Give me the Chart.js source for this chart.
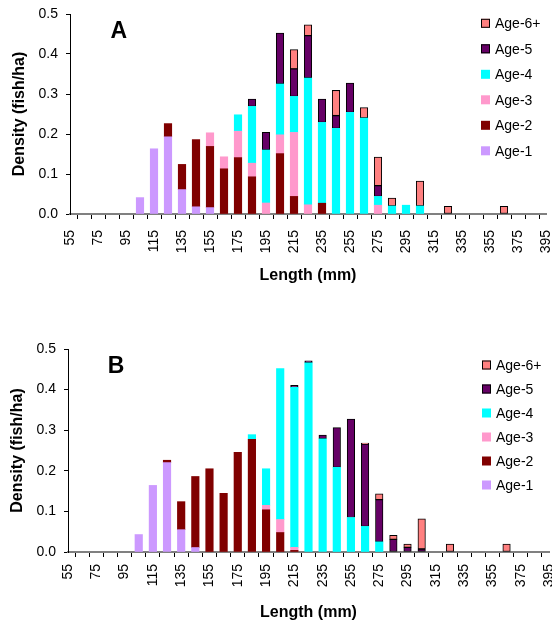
<!DOCTYPE html>
<html><head><meta charset="utf-8">
<script src="https://cdn.jsdelivr.net/npm/chart.js@4.4.1/dist/chart.umd.min.js"></script>
<style>
html,body{margin:0;padding:0;background:#fff;overflow:hidden;width:552px;height:623px;}
#wrapA{position:absolute;left:0;top:0;width:560px;height:290px;}
#wrapB{position:absolute;left:0;top:310px;width:560px;height:313px;}
canvas{display:block;}
</style></head><body>
<div id="wrapA"><canvas id="cA" width="560" height="290"></canvas></div>
<div id="wrapB"><canvas id="cB" width="560" height="313"></canvas></div>
<script>
// Length classes (mm) - x categories
const lengths = [55,65,75,85,95, 105,115,125,135,145, 155,165,175,185,195, 205,215,225,235,245,
                 255,265,275,285,295, 305,315,325,335,345, 355,365,375,385,395];
const n = null;
// Panel A densities (fish/ha) by age
const A_age1 = [n,n,n,n,n, .041,.163,.193,.061,.018, .016,n,n,n,n, n,n,n,n,n, n,n,n,n,n, n,n,n,n,n, n,n,n,n,n];
const A_age2 = [n,n,n,n,n, n,n,.033,.063,.168, .153,.113,.141,.093,n, .151,.044,n,.027,n, n,n,n,n,n, n,n,n,n,n, n,n,n,n,n];
const A_age3 = [n,n,n,n,n, n,n,n,n,n, .034,.030,.066,.034,.0275, .047,.160,.023,n,n, n,n,.022,n,n, n,n,n,n,n, n,n,n,n,n];
const A_age4 = [n,n,n,n,n, n,n,n,n,n, n,n,.041,.142,.1325, .127,.090,.317,.202,.214, .254,.240,.022,.020,.022, .020,n,n,n,n, n,n,n,n,n];
const A_age5 = [n,n,n,n,n, n,n,n,n,n, n,n,n,.018,.044, .127,.069,.106,.058,.032, .073,n,.027,n,n, n,n,n,n,n, n,n,n,n,n];
const A_age6 = [n,n,n,n,n, n,n,n,n,n, n,n,n,n,n, n,.048,.027,n,.063, n,.026,.071,.020,n, .062,n,.019,n,n, n,.019,n,n,n];
// Panel B densities (fish/ha) by age
const B_age1 = [n,n,n,n,n, .043,.164,.220,.055,.011, n,n,n,n,n, n,n,n,n,n, n,n,n,n,n, n,n,n,n,n, n,n,n,n,n];
const B_age2 = [n,n,n,n,n, n,n,.006,.069,.175, .205,.1445,.2455,.2775,.104, .048,.004,n,n,n, n,n,n,n,n, n,n,n,n,n, n,n,n,n,n];
const B_age3 = [n,n,n,n,n, n,n,n,n,n, n,n,n,n,.011, .032,.0075,n,n,n, n,n,n,n,n, n,n,n,n,n, n,n,n,n,n];
const B_age4 = [n,n,n,n,n, n,n,n,n,n, n,n,n,.0115,.090, .3715,.394,.466,.279,.2085, .085,.063,.025,n,n, n,n,n,n,n, n,n,n,n,n];
const B_age5 = [n,n,n,n,n, n,n,n,n,n, n,n,n,n,n, n,.005,.005,.009,.098, .2425,.203,.104,.031,.0115, .0074,n,n,n,n, n,n,n,n,n];
const B_age6 = [n,n,n,n,n, n,n,n,n,n, n,n,n,n,n, n,n,n,n,n, n,.002,.014,.010,.008, .074,n,.0197,n,n, n,.0197,n,n,n];

const ageLabels = ['Age-1','Age-2','Age-3','Age-4','Age-5','Age-6+'];
const ageColors = ['#CC99FF','#800000','#FF99CC','#00FFFF','#660066','#FF8080'];
const ageBorder = [0,0,0,0,1,1];
const FAM = '"Liberation Sans", Arial, sans-serif';

function buildDatasets(series){
  return series.map((vals,i)=>({
    label: ageLabels[i], data: vals, backgroundColor: ageColors[i],
    borderColor: '#000', borderWidth: ageBorder[i], borderSkipped: false,
    barThickness: 7.5, stack: 's'
  }));
}

const insideLegend = {
  id: 'insideLegend',
  afterDraw(chart, args, o){
    const ctx = chart.ctx; ctx.save();
    ctx.font = '14px ' + FAM; ctx.textBaseline = 'middle'; ctx.textAlign = 'left';
    const ds = chart.data.datasets.slice().reverse();
    ds.forEach((d,i)=>{
      const y = o.y0 + i*o.dy;
      ctx.fillStyle = d.backgroundColor;
      ctx.fillRect(o.x, y - o.size/2, o.size, o.size);
      if (d.borderWidth){ ctx.strokeStyle='#000'; ctx.lineWidth=1; ctx.strokeRect(o.x+0.5, y-o.size/2+0.5, o.size-1, o.size-1); }
      ctx.fillStyle = '#000';
      ctx.fillText(d.label, o.textX, y+1);
    });
    ctx.restore();
  }
};
const panelLetter = {
  id: 'panelLetter',
  afterDraw(chart, args, o){
    const ctx = chart.ctx; ctx.save();
    ctx.font = 'bold 23px ' + FAM; ctx.fillStyle='#000';
    ctx.textAlign='center'; ctx.textBaseline='middle';
    ctx.fillText(o.text, o.x, o.y);
    ctx.restore();
  }
};

function makeChart(id, series, g){
  return new Chart(document.getElementById(id), {
    type: 'bar',
    data: { labels: lengths.map(String), datasets: buildDatasets(series) },
    plugins: [insideLegend, panelLetter],
    options: {
      responsive: false, animation: false,
      layout: { padding: { top: g.padTop, right: g.padRight, left: 0, bottom: 0 } },
      plugins: {
        legend: { display: false }, tooltip: { enabled: false },
        insideLegend: g.legend, panelLetter: g.letter
      },
      scales: {
        x: {
          stacked: true, offset: false,
          grid: { display: true, drawOnChartArea: false, drawTicks: true, tickLength: 5, color: '#000', lineWidth: 1 },
          border: { display: true, color: '#808080', width: 2 },
          ticks: { autoSkip: false, minRotation: 90, maxRotation: 90, padding: g.xTickPad, color: '#000',
                   font: { size: 14, family: FAM },
                   callback: (v, i) => (i % 2 === 0 ? String(lengths[i]) : '') },
          title: { display: true, text: 'Length (mm)', color: '#000',
                   font: { size: 16, weight: 'bold', family: FAM }, padding: { top: 0, bottom: g.xTitlePad } },
          afterFit: (s) => { s.height = g.xH; s.paddingLeft = 0; s.paddingRight = 0; }
        },
        y: {
          stacked: true, min: 0, max: 0.5,
          ticks: { stepSize: 0.1, padding: 8, color: '#000', font: { size: 14, family: FAM },
                   callback: (v) => Number(v).toFixed(1) },
          grid: { display: true, drawOnChartArea: false, drawTicks: true, tickLength: 4, color: '#000', lineWidth: 1 },
          border: { display: true, color: '#000', width: 1 },
          title: { display: true, text: 'Density (fish/ha)', color: '#000',
                   font: { size: 16, weight: 'bold', family: FAM }, padding: { top: g.yTitlePad, bottom: 0 } },
          afterFit: (s) => { s.width = g.yW; s.paddingTop = 0; s.paddingBottom = 0; }
        }
      }
    }
  });
}

makeChart('cA', [A_age1, A_age2, A_age3, A_age4, A_age5, A_age6], {
  padTop: 14, padRight: 14, xH: 76, yW: 70, xTitlePad: 5, yTitlePad: 10, xTickPad: 11,
  legend: { x: 481, size: 9, y0: 23.3, dy: 25.5, textX: 495 },
  letter: { text: 'A', x: 118.7, y: 32 }
});
makeChart('cB', [B_age1, B_age2, B_age3, B_age4, B_age5, B_age6], {
  padTop: 39, padRight: 11, xH: 71, yW: 68, xTitlePad: 1, yTitlePad: 8, xTickPad: 7,
  legend: { x: 482, size: 9, y0: 55, dy: 24, textX: 496 },
  letter: { text: 'B', x: 116, y: 57 }
});
</script>
</body></html>
